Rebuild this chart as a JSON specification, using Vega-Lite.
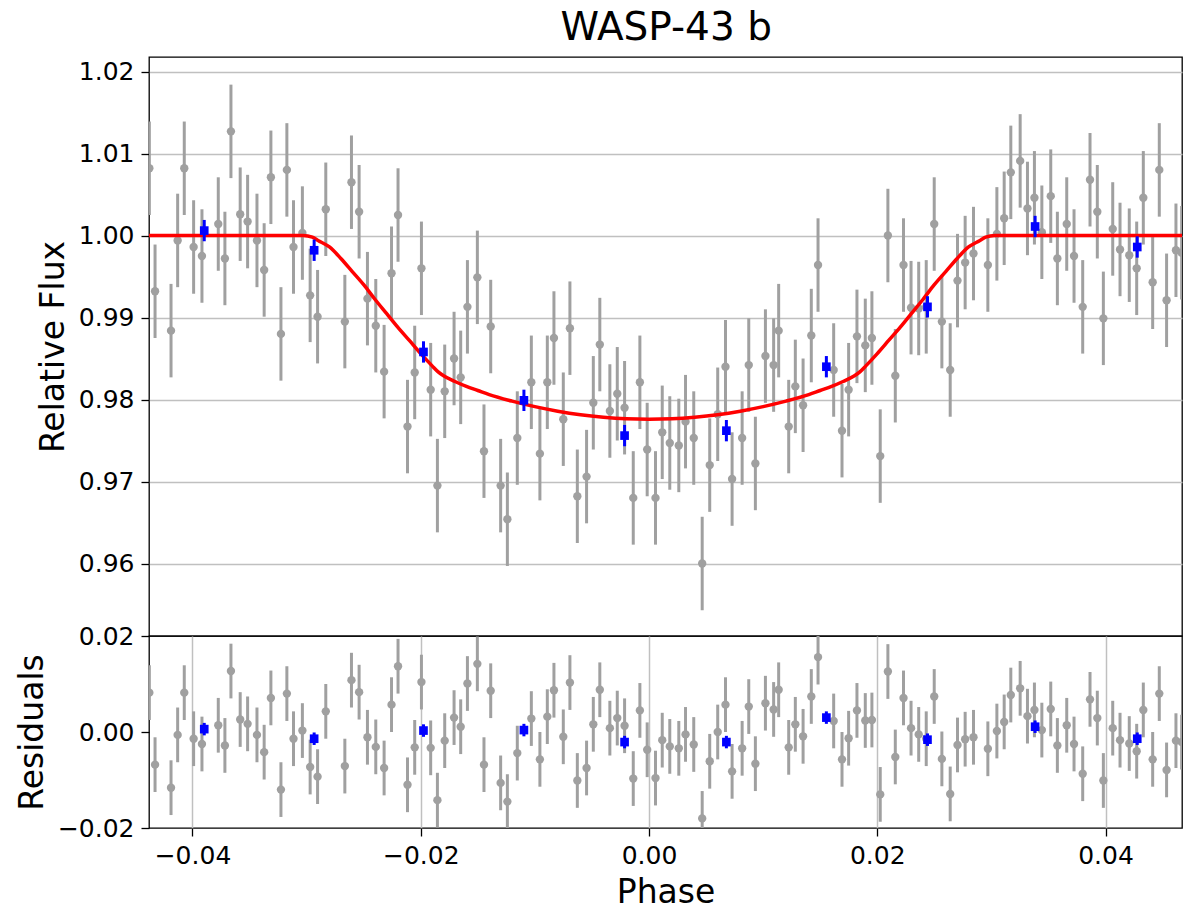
{
  "$schema": "https://vega.github.io/schema/vega-lite/v6.json",
  "padding": {"left": 15, "top": 9, "right": 1, "bottom": 0},
  "bounds": "flush",
  "title": {"text": "WASP-43 b", "fontSize": 39, "font": "DejaVu Sans", "fontWeight": "normal", "color": "#000000", "anchor": "middle", "offset": 8, "dx": 67},
  "spacing": 0,
  "config": {
    "font": "DejaVu Sans",
    "view": {"stroke": "#000000", "strokeWidth": 1.3},
    "axis": {"domain": false, "tickColor": "#000000", "tickSize": 8, "tickWidth": 1.3, "labelFont": "DejaVu Sans", "labelFontSize": 25, "labelColor": "#000000", "labelPadding": 7, "titleFont": "DejaVu Sans", "titleFontSize": 33, "titleFontWeight": "normal", "titleColor": "#000000", "titlePadding": 8, "gridColor": "#c0c0c0", "gridWidth": 1.5, "labelFlush": false, "labelOverlap": false}
  },
  "datasets": {
    "raw": [
      {"phase": -0.04378, "flux": 1.0082, "res": 0.0082, "err": 0.0057},
      {"phase": -0.04328, "flux": 0.9932, "res": -0.0068, "err": 0.0057},
      {"phase": -0.04188, "flux": 0.9884, "res": -0.0116, "err": 0.0057},
      {"phase": -0.0413, "flux": 0.9994, "res": -0.0006, "err": 0.0057},
      {"phase": -0.04072, "flux": 1.0082, "res": 0.0082, "err": 0.0057},
      {"phase": -0.0399, "flux": 0.9986, "res": -0.0014, "err": 0.0057},
      {"phase": -0.03917, "flux": 0.9975, "res": -0.0025, "err": 0.0057},
      {"phase": -0.03774, "flux": 1.0014, "res": 0.0014, "err": 0.0057},
      {"phase": -0.03716, "flux": 0.9972, "res": -0.0028, "err": 0.0057},
      {"phase": -0.03663, "flux": 1.0127, "res": 0.0127, "err": 0.0057},
      {"phase": -0.03582, "flux": 1.0026, "res": 0.0026, "err": 0.0057},
      {"phase": -0.03517, "flux": 1.0017, "res": 0.0017, "err": 0.0057},
      {"phase": -0.03435, "flux": 0.9994, "res": -0.0006, "err": 0.0057},
      {"phase": -0.03372, "flux": 0.9958, "res": -0.0042, "err": 0.0057},
      {"phase": -0.03313, "flux": 1.0071, "res": 0.0071, "err": 0.0057},
      {"phase": -0.03225, "flux": 0.988, "res": -0.012, "err": 0.0057},
      {"phase": -0.03173, "flux": 1.008, "res": 0.008, "err": 0.0057},
      {"phase": -0.03115, "flux": 0.9986, "res": -0.0014, "err": 0.0057},
      {"phase": -0.03037, "flux": 1.0003, "res": 0.0003, "err": 0.0057},
      {"phase": -0.02969, "flux": 0.9927, "res": -0.0073, "err": 0.0057},
      {"phase": -0.02904, "flux": 0.9901, "res": -0.0093, "err": 0.0057},
      {"phase": -0.02832, "flux": 1.0032, "res": 0.0043, "err": 0.0057},
      {"phase": -0.02665, "flux": 0.9895, "res": -0.0071, "err": 0.0057},
      {"phase": -0.02607, "flux": 1.0065, "res": 0.0108, "err": 0.0057},
      {"phase": -0.0254, "flux": 1.0029, "res": 0.0083, "err": 0.0057},
      {"phase": -0.02467, "flux": 0.9923, "res": -0.0011, "err": 0.0057},
      {"phase": -0.02394, "flux": 0.989, "res": -0.0031, "err": 0.0057},
      {"phase": -0.02321, "flux": 0.9834, "res": -0.0075, "err": 0.0057},
      {"phase": -0.02256, "flux": 0.9954, "res": 0.0057, "err": 0.0057},
      {"phase": -0.02199, "flux": 1.0025, "res": 0.0137, "err": 0.0057},
      {"phase": -0.02116, "flux": 0.9767, "res": -0.011, "err": 0.0057},
      {"phase": -0.02053, "flux": 0.9833, "res": -0.0032, "err": 0.0057},
      {"phase": -0.01994, "flux": 0.996, "res": 0.0104, "err": 0.0057},
      {"phase": -0.01913, "flux": 0.9812, "res": -0.0033, "err": 0.0057},
      {"phase": -0.01854, "flux": 0.9695, "res": -0.0142, "err": 0.0057},
      {"phase": -0.0179, "flux": 0.981, "res": -0.0018, "err": 0.0057},
      {"phase": -0.01708, "flux": 0.985, "res": 0.003, "err": 0.0057},
      {"phase": -0.0165, "flux": 0.9827, "res": 0.0011, "err": 0.0057},
      {"phase": -0.01591, "flux": 0.9913, "res": 0.0101, "err": 0.0057},
      {"phase": -0.01504, "flux": 0.9949, "res": 0.0142, "err": 0.0057},
      {"phase": -0.01446, "flux": 0.9737, "res": -0.0068, "err": 0.0057},
      {"phase": -0.01387, "flux": 0.9889, "res": 0.0086, "err": 0.0057},
      {"phase": -0.013, "flux": 0.9695, "res": -0.0106, "err": 0.0057},
      {"phase": -0.01241, "flux": 0.9654, "res": -0.0145, "err": 0.0057},
      {"phase": -0.01154, "flux": 0.9753, "res": -0.0044, "err": 0.0057},
      {"phase": -0.01031, "flux": 0.9821, "res": 0.0028, "err": 0.0057},
      {"phase": -0.00956, "flux": 0.9734, "res": -0.0057, "err": 0.0057},
      {"phase": -0.00891, "flux": 0.9821, "res": 0.0032, "err": 0.0057},
      {"phase": -0.00833, "flux": 0.9875, "res": 0.0087, "err": 0.0057},
      {"phase": -0.00751, "flux": 0.9776, "res": -0.001, "err": 0.0057},
      {"phase": -0.00693, "flux": 0.9887, "res": 0.0103, "err": 0.0057},
      {"phase": -0.00628, "flux": 0.9682, "res": -0.0101, "err": 0.0057},
      {"phase": -0.00547, "flux": 0.9706, "res": -0.0075, "err": 0.0057},
      {"phase": -0.00488, "flux": 0.9796, "res": 0.0016, "err": 0.0057},
      {"phase": -0.00431, "flux": 0.9867, "res": 0.0088, "err": 0.0057},
      {"phase": -0.00343, "flux": 0.9786, "res": 0.0008, "err": 0.0057},
      {"phase": -0.00278, "flux": 0.9807, "res": 0.0029, "err": 0.0057},
      {"phase": -0.00214, "flux": 0.979, "res": 0.0013, "err": 0.0057},
      {"phase": -0.00138, "flux": 0.968, "res": -0.0097, "err": 0.0057},
      {"phase": -0.0008, "flux": 0.9821, "res": 0.0045, "err": 0.0057},
      {"phase": -0.00016, "flux": 0.9739, "res": -0.0037, "err": 0.0057},
      {"phase": 0.00057, "flux": 0.968, "res": -0.0096, "err": 0.0057},
      {"phase": 0.00116, "flux": 0.976, "res": -0.0017, "err": 0.0057},
      {"phase": 0.00182, "flux": 0.9747, "res": -0.003, "err": 0.0057},
      {"phase": 0.00261, "flux": 0.9744, "res": -0.0034, "err": 0.0057},
      {"phase": 0.0032, "flux": 0.9773, "res": -0.0005, "err": 0.0057},
      {"phase": 0.00392, "flux": 0.9753, "res": -0.0026, "err": 0.0057},
      {"phase": 0.00466, "flux": 0.96, "res": -0.018, "err": 0.0057},
      {"phase": 0.00532, "flux": 0.972, "res": -0.0061, "err": 0.0057},
      {"phase": 0.00602, "flux": 0.9782, "res": 0.0, "err": 0.0057},
      {"phase": 0.0067, "flux": 0.984, "res": 0.0057, "err": 0.0057},
      {"phase": 0.00728, "flux": 0.9703, "res": -0.0082, "err": 0.0057},
      {"phase": 0.00816, "flux": 0.9753, "res": -0.0034, "err": 0.0057},
      {"phase": 0.00874, "flux": 0.9842, "res": 0.0053, "err": 0.0057},
      {"phase": 0.00932, "flux": 0.9722, "res": -0.0066, "err": 0.0057},
      {"phase": 0.0102, "flux": 0.9853, "res": 0.006, "err": 0.0057},
      {"phase": 0.01092, "flux": 0.9842, "res": 0.0047, "err": 0.0057},
      {"phase": 0.01136, "flux": 0.9884, "res": 0.0088, "err": 0.0057},
      {"phase": 0.01224, "flux": 0.9767, "res": -0.0032, "err": 0.0057},
      {"phase": 0.01282, "flux": 0.9816, "res": 0.0016, "err": 0.0057},
      {"phase": 0.0135, "flux": 0.9793, "res": -0.0009, "err": 0.0057},
      {"phase": 0.01422, "flux": 0.9878, "res": 0.0074, "err": 0.0057},
      {"phase": 0.01481, "flux": 0.9964, "res": 0.0156, "err": 0.0057},
      {"phase": 0.01618, "flux": 0.9836, "res": 0.0023, "err": 0.0057},
      {"phase": 0.01691, "flux": 0.9762, "res": -0.0057, "err": 0.0057},
      {"phase": 0.01749, "flux": 0.9812, "res": -0.0013, "err": 0.0057},
      {"phase": 0.01822, "flux": 0.9877, "res": 0.0045, "err": 0.0057},
      {"phase": 0.01895, "flux": 0.9866, "res": 0.0024, "err": 0.0057},
      {"phase": 0.01953, "flux": 0.9875, "res": 0.0025, "err": 0.0057},
      {"phase": 0.02026, "flux": 0.9731, "res": -0.013, "err": 0.0057},
      {"phase": 0.02093, "flux": 1.0, "res": 0.0126, "err": 0.0057},
      {"phase": 0.02158, "flux": 0.9829, "res": -0.0052, "err": 0.0057},
      {"phase": 0.0223, "flux": 0.9964, "res": 0.0071, "err": 0.0057},
      {"phase": 0.02296, "flux": 0.9912, "res": 0.0008, "err": 0.0057},
      {"phase": 0.02363, "flux": 0.9911, "res": -0.0005, "err": 0.0057},
      {"phase": 0.02429, "flux": 0.9913, "res": -0.0014, "err": 0.0057},
      {"phase": 0.02499, "flux": 1.0014, "res": 0.0074, "err": 0.0057},
      {"phase": 0.02566, "flux": 0.9895, "res": -0.0056, "err": 0.0057},
      {"phase": 0.02639, "flux": 0.9836, "res": -0.0129, "err": 0.0057},
      {"phase": 0.02703, "flux": 0.9945, "res": -0.0027, "err": 0.0057},
      {"phase": 0.0277, "flux": 0.9967, "res": -0.0015, "err": 0.0057},
      {"phase": 0.02843, "flux": 0.9978, "res": -0.0011, "err": 0.0057},
      {"phase": 0.02969, "flux": 0.9964, "res": -0.0035, "err": 0.0057},
      {"phase": 0.03048, "flux": 1.0002, "res": 0.0002, "err": 0.0057},
      {"phase": 0.03112, "flux": 1.0021, "res": 0.0021, "err": 0.0057},
      {"phase": 0.0317, "flux": 1.0077, "res": 0.0077, "err": 0.0057},
      {"phase": 0.03252, "flux": 1.0091, "res": 0.0091, "err": 0.0057},
      {"phase": 0.03316, "flux": 1.0033, "res": 0.0033, "err": 0.0057},
      {"phase": 0.03377, "flux": 1.0046, "res": 0.0046, "err": 0.0057},
      {"phase": 0.03442, "flux": 1.0004, "res": 0.0004, "err": 0.0057},
      {"phase": 0.0352, "flux": 1.0048, "res": 0.0048, "err": 0.0057},
      {"phase": 0.03578, "flux": 0.9972, "res": -0.0028, "err": 0.0057},
      {"phase": 0.0366, "flux": 1.0014, "res": 0.0014, "err": 0.0057},
      {"phase": 0.03724, "flux": 0.9975, "res": -0.0025, "err": 0.0057},
      {"phase": 0.038, "flux": 0.9913, "res": -0.0087, "err": 0.0057},
      {"phase": 0.03864, "flux": 1.0068, "res": 0.0068, "err": 0.0057},
      {"phase": 0.03928, "flux": 1.0029, "res": 0.0029, "err": 0.0057},
      {"phase": 0.03981, "flux": 0.9899, "res": -0.0101, "err": 0.0057},
      {"phase": 0.04063, "flux": 1.0008, "res": 0.0008, "err": 0.0057},
      {"phase": 0.04127, "flux": 0.9983, "res": -0.0017, "err": 0.0057},
      {"phase": 0.04208, "flux": 0.9976, "res": -0.0024, "err": 0.0057},
      {"phase": 0.04273, "flux": 0.996, "res": -0.004, "err": 0.0057},
      {"phase": 0.04331, "flux": 1.0046, "res": 0.0046, "err": 0.0057},
      {"phase": 0.04413, "flux": 0.9943, "res": -0.0057, "err": 0.0057},
      {"phase": 0.04471, "flux": 1.008, "res": 0.008, "err": 0.0057},
      {"phase": 0.04535, "flux": 0.9921, "res": -0.0079, "err": 0.0057},
      {"phase": 0.04617, "flux": 0.9982, "res": -0.0018, "err": 0.0057},
      {"phase": 0.04667, "flux": 0.9979, "res": -0.0021, "err": 0.0057}
    ],
    "binned": [
      {"phase": -0.03897, "flux": 1.0006, "res": 0.0006, "err": 0.0013},
      {"phase": -0.02934, "flux": 0.9982, "res": -0.0014, "err": 0.0013},
      {"phase": -0.01976, "flux": 0.9858, "res": 0.0003, "err": 0.0013},
      {"phase": -0.01096, "flux": 0.9799, "res": 0.0004, "err": 0.0013},
      {"phase": -0.00214, "flux": 0.9756, "res": -0.0021, "err": 0.0013},
      {"phase": 0.00678, "flux": 0.9762, "res": -0.0021, "err": 0.0013},
      {"phase": 0.01554, "flux": 0.984, "res": 0.003, "err": 0.0013},
      {"phase": 0.0244, "flux": 0.9913, "res": -0.0016, "err": 0.0013},
      {"phase": 0.03383, "flux": 1.0011, "res": 0.0011, "err": 0.0013},
      {"phase": 0.04278, "flux": 0.9986, "res": -0.0014, "err": 0.0013}
    ],
    "model": [
      {"phase": -0.044, "model": 1.0},
      {"phase": -0.0303, "model": 1.0},
      {"phase": -0.0295, "model": 0.9998},
      {"phase": -0.029, "model": 0.9994},
      {"phase": -0.028, "model": 0.9986},
      {"phase": -0.027, "model": 0.9972},
      {"phase": -0.026, "model": 0.9956},
      {"phase": -0.025, "model": 0.994},
      {"phase": -0.024, "model": 0.9922},
      {"phase": -0.023, "model": 0.9905},
      {"phase": -0.022, "model": 0.9888},
      {"phase": -0.021, "model": 0.9872},
      {"phase": -0.02, "model": 0.9856},
      {"phase": -0.019, "model": 0.9841},
      {"phase": -0.0185, "model": 0.9834},
      {"phase": -0.018, "model": 0.9829},
      {"phase": -0.017, "model": 0.9822},
      {"phase": -0.016, "model": 0.9816},
      {"phase": -0.015, "model": 0.9811},
      {"phase": -0.014, "model": 0.9806},
      {"phase": -0.012, "model": 0.9798},
      {"phase": -0.01, "model": 0.97913},
      {"phase": -0.008, "model": 0.97858},
      {"phase": -0.006, "model": 0.97815},
      {"phase": -0.004, "model": 0.97785},
      {"phase": -0.002, "model": 0.97766},
      {"phase": 0.0, "model": 0.9776},
      {"phase": 0.002, "model": 0.97766},
      {"phase": 0.004, "model": 0.97785},
      {"phase": 0.006, "model": 0.97815},
      {"phase": 0.008, "model": 0.97858},
      {"phase": 0.01, "model": 0.97913},
      {"phase": 0.012, "model": 0.9798},
      {"phase": 0.014, "model": 0.9806},
      {"phase": 0.015, "model": 0.9811},
      {"phase": 0.016, "model": 0.9816},
      {"phase": 0.017, "model": 0.9822},
      {"phase": 0.018, "model": 0.9829},
      {"phase": 0.0185, "model": 0.9834},
      {"phase": 0.019, "model": 0.9841},
      {"phase": 0.02, "model": 0.9856},
      {"phase": 0.021, "model": 0.9872},
      {"phase": 0.022, "model": 0.9888},
      {"phase": 0.023, "model": 0.9905},
      {"phase": 0.024, "model": 0.9922},
      {"phase": 0.025, "model": 0.994},
      {"phase": 0.026, "model": 0.9956},
      {"phase": 0.027, "model": 0.9972},
      {"phase": 0.028, "model": 0.9986},
      {"phase": 0.029, "model": 0.9994},
      {"phase": 0.0295, "model": 0.9998},
      {"phase": 0.0303, "model": 1.0},
      {"phase": 0.047, "model": 1.0}
    ]
  },
  "vconcat": [
    {
      "width": 1033,
      "height": 579,
      "layer": [
        {
          "data": {"name": "raw"},
          "mark": {"type": "errorbar", "ticks": false, "color": "#a0a0a0", "thickness": 3, "clip": true},
          "encoding": {
            "x": {"field": "phase", "type": "quantitative", "title": "Phase", "scale": {"domain": [-0.04381, 0.0467], "nice": false, "zero": false}, "axis": null},
            "y": {"field": "flux", "type": "quantitative", "title": "Relative Flux", "scale": {"domain": [0.95116, 1.02177], "nice": false, "zero": false},
                  "axis": {"values": [0.96, 0.97, 0.98, 0.99, 1.0, 1.01, 1.02], "format": ".2f", "grid": true}},
            "yError": {"field": "err"}
          }
        },
        {
          "data": {"name": "raw"},
          "mark": {"type": "circle", "size": 70, "color": "#a0a0a0", "opacity": 1, "clip": true},
          "encoding": {
            "x": {"field": "phase", "type": "quantitative", "title": "Phase"},
            "y": {"field": "flux", "type": "quantitative", "title": "Relative Flux"}
          }
        },
        {
          "data": {"name": "model"},
          "mark": {"type": "line", "color": "#ff0000", "strokeWidth": 3.5, "interpolate": "monotone", "clip": true},
          "encoding": {
            "x": {"field": "phase", "type": "quantitative", "title": "Phase"},
            "y": {"field": "model", "type": "quantitative", "title": "Relative Flux"}
          }
        },
        {
          "data": {"name": "binned"},
          "mark": {"type": "errorbar", "ticks": false, "color": "#0000ff", "thickness": 3, "clip": true},
          "encoding": {
            "x": {"field": "phase", "type": "quantitative", "title": "Phase"},
            "y": {"field": "flux", "type": "quantitative", "title": "Relative Flux"},
            "yError": {"field": "err"}
          }
        },
        {
          "data": {"name": "binned"},
          "mark": {"type": "square", "size": 75, "color": "#0000ff", "opacity": 1, "clip": true},
          "encoding": {
            "x": {"field": "phase", "type": "quantitative", "title": "Phase"},
            "y": {"field": "flux", "type": "quantitative", "title": "Relative Flux"}
          }
        }
      ]
    },
    {
      "width": 1033,
      "height": 192,
      "layer": [
        {
          "data": {"name": "raw"},
          "mark": {"type": "errorbar", "ticks": false, "color": "#a0a0a0", "thickness": 3, "clip": true},
          "encoding": {
            "x": {"field": "phase", "type": "quantitative", "title": "Phase", "scale": {"domain": [-0.04381, 0.0467], "nice": false, "zero": false},
                  "axis": {"values": [-0.04, -0.02, 0, 0.02, 0.04], "format": ".2f", "grid": true}},
            "y": {"field": "res", "type": "quantitative", "title": "Residuals", "scale": {"domain": [-0.02, 0.02], "nice": false, "zero": false},
                  "axis": {"values": [-0.02, 0, 0.02], "format": ".2f", "grid": false}},
            "yError": {"field": "err"}
          }
        },
        {
          "data": {"name": "raw"},
          "mark": {"type": "circle", "size": 70, "color": "#a0a0a0", "opacity": 1, "clip": true},
          "encoding": {
            "x": {"field": "phase", "type": "quantitative", "title": "Phase"},
            "y": {"field": "res", "type": "quantitative", "title": "Residuals"}
          }
        },
        {
          "mark": {"type": "rule", "color": "#ff0000", "strokeWidth": 3.5},
          "encoding": {"y": {"datum": 0, "title": "Residuals"}}
        },
        {
          "data": {"name": "binned"},
          "mark": {"type": "errorbar", "ticks": false, "color": "#0000ff", "thickness": 3, "clip": true},
          "encoding": {
            "x": {"field": "phase", "type": "quantitative", "title": "Phase"},
            "y": {"field": "res", "type": "quantitative", "title": "Residuals"},
            "yError": {"field": "err"}
          }
        },
        {
          "data": {"name": "binned"},
          "mark": {"type": "square", "size": 75, "color": "#0000ff", "opacity": 1, "clip": true},
          "encoding": {
            "x": {"field": "phase", "type": "quantitative", "title": "Phase"},
            "y": {"field": "res", "type": "quantitative", "title": "Residuals"}
          }
        }
      ]
    }
  ]
}
